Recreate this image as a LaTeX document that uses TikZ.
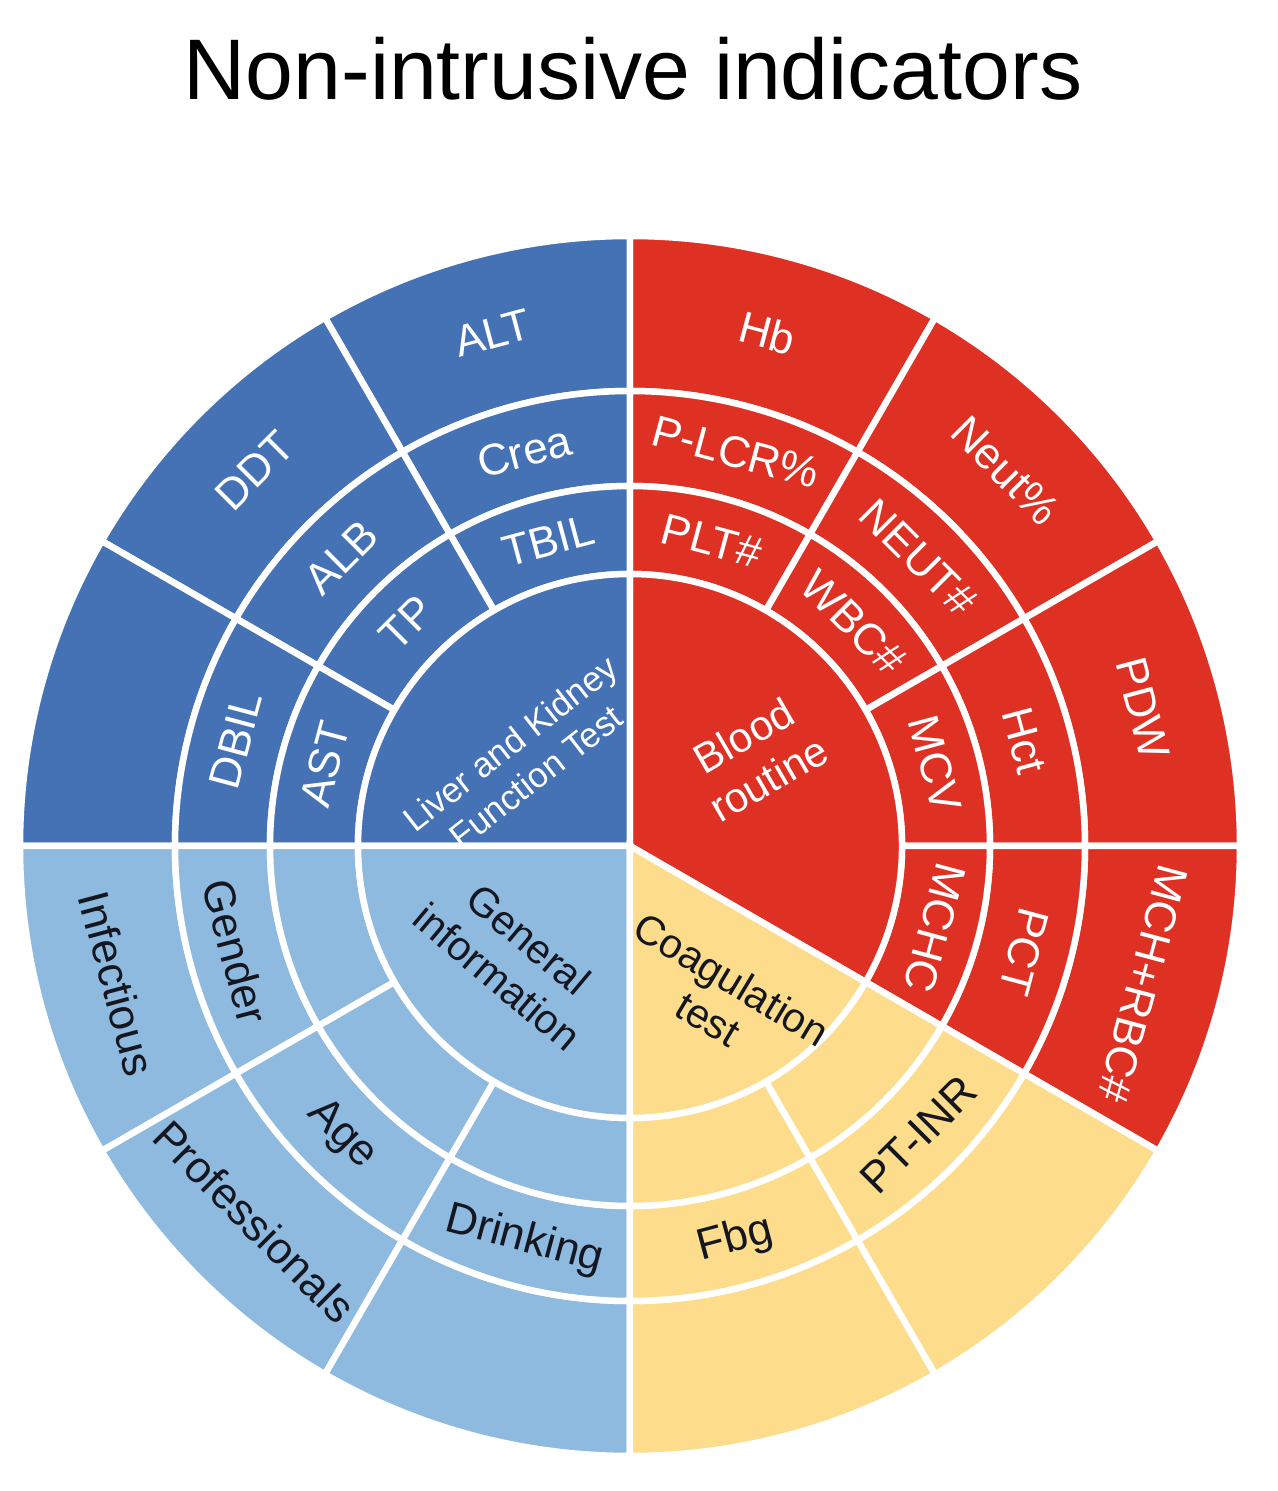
\documentclass[tikz,border=0pt]{standalone}
\usepackage{fontspec}
\setmainfont{Liberation Sans}
\definecolor{blueD}{RGB}{68,114,181}
\definecolor{redC}{RGB}{223,48,36}
\definecolor{lightB}{RGB}{142,186,224}
\definecolor{yellowC}{RGB}{253,220,140}
\definecolor{darkT}{RGB}{20,22,32}
\newcommand\sunsector[5]{\filldraw[fill=#1,sep] (#2:#4) arc[start angle=#2,end angle=#3,radius=#4] -- (#3:#5) arc[start angle=#3,end angle=#2,radius=#5] -- cycle;}
\newcommand\sunwedge[4]{\filldraw[fill=#1,sep] (0,0) -- (#2:#4) arc[start angle=#2,end angle=#3,radius=#4] -- cycle;}
\begin{document}
\begin{tikzpicture}[x=1pt,y=1pt,
  sep/.style={draw=white,line width=6.5pt,line join=miter},
  labw/.style={font=\fontsize{44}{50}\selectfont,text=white,inner sep=0pt},
  labd/.style={font=\fontsize{44}{50}\selectfont,text=darkT,inner sep=0pt},
  centw/.style={text=white,align=center,inner sep=0pt},
  centd/.style={text=darkT,align=center,inner sep=0pt}]
\useasboundingbox (-630,-645) rectangle (647,846);
\fill[white] (-630,-645) rectangle (647,846);
\node[font=\fontsize{86}{96}\selectfont,anchor=base] (title) at (3,746) {Non-intrusive indicators};
% outer ring (455-610)
\sunsector{redC}{60}{90}{455}{610}
\sunsector{redC}{30}{60}{455}{610}
\sunsector{redC}{0}{30}{455}{610}
\sunsector{redC}{-30}{0}{455}{610}
\sunsector{blueD}{90}{120}{455}{610}
\sunsector{blueD}{120}{150}{455}{610}
\sunsector{blueD}{150}{180}{455}{610}
\sunsector{lightB}{180}{210}{455}{610}
\sunsector{lightB}{210}{240}{455}{610}
\sunsector{lightB}{240}{270}{455}{610}
\sunsector{yellowC}{270}{300}{455}{610}
\sunsector{yellowC}{300}{330}{455}{610}
% ring 2 (360-455)
\sunsector{redC}{60}{90}{360}{455}
\sunsector{redC}{30}{60}{360}{455}
\sunsector{redC}{0}{30}{360}{455}
\sunsector{redC}{-30}{0}{360}{455}
\sunsector{blueD}{90}{120}{360}{455}
\sunsector{blueD}{120}{150}{360}{455}
\sunsector{blueD}{150}{180}{360}{455}
\sunsector{lightB}{180}{210}{360}{455}
\sunsector{lightB}{210}{240}{360}{455}
\sunsector{lightB}{240}{270}{360}{455}
\sunsector{yellowC}{270}{300}{360}{455}
\sunsector{yellowC}{300}{330}{360}{455}
% ring 1 (272-360)
\sunsector{redC}{60}{90}{272}{360}
\sunsector{redC}{30}{60}{272}{360}
\sunsector{redC}{0}{30}{272}{360}
\sunsector{redC}{-30}{0}{272}{360}
\sunsector{blueD}{90}{120}{272}{360}
\sunsector{blueD}{120}{150}{272}{360}
\sunsector{blueD}{150}{180}{272}{360}
\sunsector{lightB}{180}{210}{272}{360}
\sunsector{lightB}{210}{240}{272}{360}
\sunsector{lightB}{240}{270}{272}{360}
\sunsector{yellowC}{270}{300}{272}{360}
\sunsector{yellowC}{300}{330}{272}{360}
% inner disk
\sunwedge{redC}{-30}{90}{272}
\sunwedge{blueD}{90}{180}{272}
\sunwedge{lightB}{180}{270}{272}
\sunwedge{yellowC}{270}{330}{272}
% labels: Liver and Kidney
\node[labw,rotate=15] (alt) at (105:531) {ALT};
\node[labw,rotate=15] (crea) at (105:408) {Crea};
\node[labw,rotate=15] (tbil) at (105:316) {TBIL};
\node[labw,rotate=45] (ddt) at (135:531) {DDT};
\node[labw,rotate=45] (alb) at (135:408) {ALB};
\node[labw,rotate=45] (tp) at (135:316) {TP};
\node[labw,rotate=75] (dbil) at (165:408) {DBIL};
\node[labw,rotate=75] (ast) at (165:316) {AST};
% Blood routine
\node[labw,rotate=-15] (hb) at (75:531) {Hb};
\node[labw,rotate=-15] (plcr) at (75:408) {P-LCR\%};
\node[labw,rotate=-15] (plt) at (75:316) {PLT\#};
\node[labw,rotate=-45] (neutp) at (45:531) {Neut\%};
\node[labw,rotate=-45] (neutn) at (45:408) {NEUT\#};
\node[labw,rotate=-45] (wbc) at (45:316) {WBC\#};
\node[labw,rotate=-75] (pdw) at (15:531) {PDW};
\node[labw,rotate=-75] (hct) at (15:408) {Hct};
\node[labw,rotate=-75] (mcv) at (15:316) {MCV};
\node[labw,rotate=-105] (mchrbc) at (-15:531) {MCH+RBC\#};
\node[labw,rotate=-105] (pct) at (-15:408) {PCT};
\node[labw,rotate=-105] (mchc) at (-15:316) {MCHC};
% General information
\node[labd,rotate=-75] (infect) at (195:531) {Infectious};
\node[labd,rotate=-75] (gender) at (195:408) {Gender};
\node[labd,rotate=-45] (prof) at (225:531) {Professionals};
\node[labd,rotate=-45] (age) at (225:408) {Age};
\node[labd,rotate=-15] (drink) at (255:408) {Drinking};
% Coagulation
\node[labd,rotate=15] (fbg) at (285:408) {Fbg};
\node[labd,rotate=45] (ptinr) at (315:408) {PT-INR};
% centre labels
\node[centw,rotate=38,font=\fontsize{35}{42}\selectfont] (liver) at (-107,86) {Liver and Kidney\\Function Test};
\node[centw,rotate=30,font=\fontsize{42}{50}\selectfont] (blood) at (126,89) {Blood\\routine};
\node[centd,rotate=-40,font=\fontsize{41}{49}\selectfont] (general) at (-117,-112) {General\\information};
\node[centd,rotate=-31,font=\fontsize{41}{46}\selectfont] (coag) at (90,-153) {Coagulation\\test};
\end{tikzpicture}
\end{document}
